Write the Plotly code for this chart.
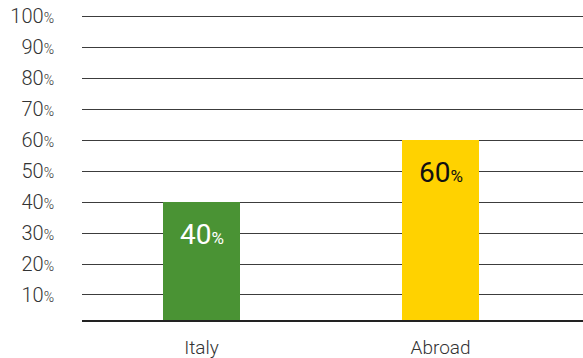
import plotly.graph_objects as go

# Share of the total, by destination
categories = ["Italy", "Abroad"]
values = [40, 60]
bar_colors = ["#4a9334", "#ffd200"]
label_colors = ["#ffffff", "#111111"]
y_ticks = [10, 20, 30, 40, 50, 60, 70, 80, 90, 100]

FONT = "Roboto, 'Open Sans', sans-serif"


def pct(v, num_size, pct_size):
    return (f"<span style='font-size:{num_size}px'>{v}</span>"
            f"<span style='font-size:{pct_size}px'>%</span>")


fig = go.Figure()
fig.add_trace(go.Bar(
    x=categories,
    y=values,
    marker=dict(color=bar_colors, line=dict(width=0)),
    width=0.322,
    hoverinfo="skip",
))

# value labels placed just below the top of each bar
for cat, v, col in zip(categories, values, label_colors):
    fig.add_annotation(
        x=cat, y=v, xref="x", yref="y",
        text=pct(v, 28, 17),
        showarrow=False, yanchor="middle", yshift=-32,
        font=dict(family=FONT, color=col, size=28, weight=400),
    )

fig.update_layout(
    width=583, height=358,
    margin=dict(l=82, r=0, t=14, b=38),
    paper_bgcolor="white", plot_bgcolor="white",
    showlegend=False,
    bargap=0,
    font=dict(family=FONT, color="#333333"),
    xaxis=dict(
        type="category",
        range=[-0.5, 1.596],
        showgrid=False,
        showline=True, linecolor="#222222", linewidth=1.5,
        ticks="", ticklabelstandoff=9,
        tickfont=dict(size=19, color="#333333", weight=300),
        fixedrange=True,
    ),
    yaxis=dict(
        range=[1.9, 100.8],
        tickvals=y_ticks,
        ticktext=[pct(t, 20, 14) for t in y_ticks],
        showgrid=True, gridcolor="#3c3c3c", gridwidth=1,
        zeroline=False, showline=False,
        ticks="", ticklabelstandoff=27,
        tickfont=dict(size=20, color="#333333", weight=300),
        fixedrange=True,
    ),
)

fig.write_html("out.html")
